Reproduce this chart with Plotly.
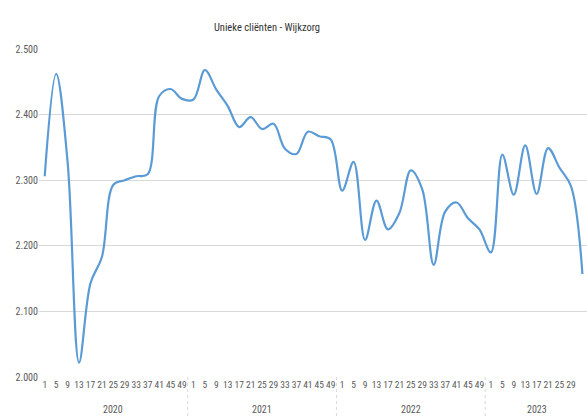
import plotly.graph_objects as go

# 4-weekly periods (label = first week of the period)
years = ["2020", "2021", "2022", "2023"]
periods = {
    "2020": [1, 5, 9, 13, 17, 21, 25, 29, 33, 37, 41, 45, 49],
    "2021": [1, 5, 9, 13, 17, 21, 25, 29, 33, 37, 41, 45, 49],
    "2022": [1, 5, 9, 13, 17, 21, 25, 29, 33, 37, 41, 45, 49],
    "2023": [1, 5, 9, 13, 17, 21, 25, 29, 33],
}
clients_2020 = [2306, 2462, 2328, 2022, 2143, 2183, 2293, 2300, 2306, 2309, 2428, 2439, 2424]
clients_2021 = [2423, 2468, 2438, 2413, 2381, 2396, 2378, 2386, 2348, 2340, 2374, 2367, 2362]
clients_2022 = [2284, 2328, 2209, 2269, 2225, 2250, 2315, 2286, 2171, 2252, 2266, 2242, 2225]
clients_2023 = [2190, 2339, 2278, 2353, 2279, 2349, 2319, 2291, 2157]
values = {"2020": clients_2020, "2021": clients_2021, "2022": clients_2022, "2023": clients_2023}

xs, ys, labels = [], [], []
year_bounds = []
for yr in years:
    start = len(xs)
    for wk, v in zip(periods[yr], values[yr]):
        xs.append(len(xs))
        ys.append(v)
        labels.append(str(wk))
    year_bounds.append((yr, start, len(xs) - 1))

grey = "#595959"
font_family = "Roboto Condensed, DejaVu Sans Condensed, sans-serif"

fig = go.Figure()
fig.add_trace(go.Scatter(x=xs, y=ys, mode="lines",
                         line=dict(color="#5b9bd5", width=2.2, shape="spline", smoothing=1.0),
                         showlegend=False))

# year group labels and dividers below the axis (multi-level category look)
for yr, a, b in year_bounds:
    fig.add_annotation(x=(a + b) / 2, y=-0.1, xref="x", yref="paper", text=yr,
                       yanchor="middle", showarrow=False,
                       font=dict(size=10, color=grey, family=font_family))
    if a > 0:
        fig.add_shape(type="line", xref="x", yref="paper", x0=a - 0.5, x1=a - 0.5,
                      y0=0, y1=-0.125, line=dict(color="#d9d9d9", width=1, dash="dot"))

fig.update_xaxes(range=[-0.5, 47.4], tickmode="array", tickvals=xs, ticktext=labels,
                 tickangle=0, showgrid=False, zeroline=False, showline=False, ticks="",
                 automargin=False,
                 tickfont=dict(size=9.5, color=grey, family=font_family))
fig.update_yaxes(range=[2000, 2500], dtick=100, tickformat=",d", showgrid=True,
                 gridcolor="#d9d9d9", gridwidth=1, zeroline=False, showline=False, ticks="",
                 automargin=False,
                 tickfont=dict(size=10, color=grey, family=font_family))

fig.update_layout(
    width=587, height=417,
    margin=dict(l=39, r=0, t=49, b=40),
    separators=",.",
    plot_bgcolor="white", paper_bgcolor="white",
    title=dict(text="Unieke cliënten - Wijkzorg", x=267 / 587, xanchor="center",
               y=1 - 27 / 417, yanchor="middle", yref="container",
               font=dict(size=10.5, color="#333333", family=font_family)),
    font=dict(family=font_family),
)

# drop the default 8px page margin so the figure fills the window
fig.write_html("out.html", config={"displayModeBar": False},
               post_script="document.body.style.margin='0px';")
